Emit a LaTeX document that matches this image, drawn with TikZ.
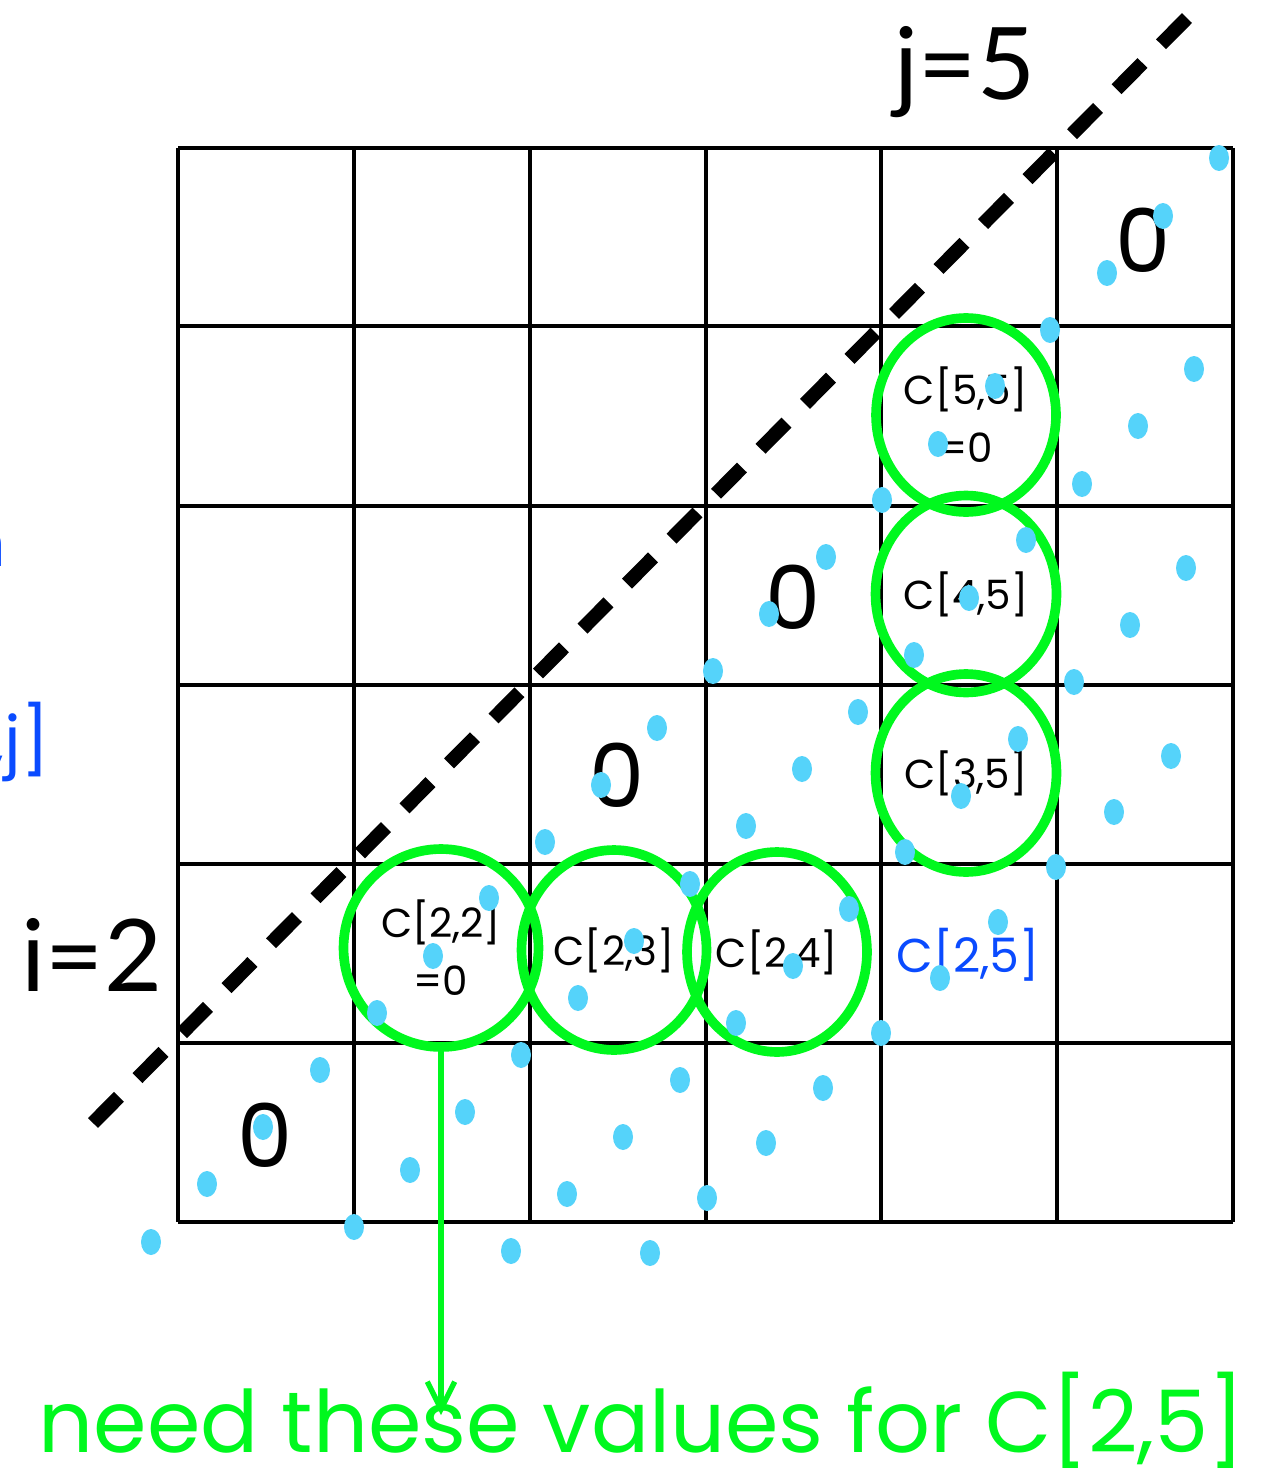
\documentclass[tikz,border=0pt]{standalone}
\usepackage{fontspec}
\setmainfont{Poppins}
\newfontfamily\rotulo{Lato}
\usetikzlibrary{arrows.meta,shapes.geometric}
\definecolor{verde}{HTML}{00F81E}
\definecolor{azul}{HTML}{0A4BFF}
\definecolor{ponto}{HTML}{55D3FA}

\begin{document}
\begin{tikzpicture}[x=0.02cm, y=-0.02cm, >=Stealth,
  linha/.style={line width=2.7pt, draw=black},
  tracejado/.style={line width=8pt, draw=black, dash pattern=on 21pt off 15pt},
  anel/.style={ellipse, draw=verde, line width=5.5pt, align=center, inner sep=0pt,
               font=\fontsize{23}{33}\selectfont},
  celula/.style={font=\fontsize{23}{33}\selectfont},
  zero/.style={font=\fontsize{50}{50}\selectfont},
  indice/.style={font=\rotulo\fontsize{57}{57}\selectfont},
  bolinha/.style={fill=ponto},
  seta/.style={-{Straight Barb[length=0.55cm, width=0.55cm, line width=3pt]},
               draw=verde, line width=3pt}]

  \useasboundingbox (0,0) rectangle (1267,1473);
  \clip (0,0) rectangle (1267,1473);

  % tabela 6x6
  \foreach \x in {178,354,530,706,881,1057,1233}
    \draw[linha] (\x,148) -- (\x,1222);
  \foreach \y in {148,326,506,685,864,1043,1222}
    \draw[linha] (178,\y) -- (1233,\y);

  % diagonal
  \coordinate (diagA) at (93,1123);
  \coordinate (diagB) at (1190,15);
  \draw[tracejado] (diagA) -- (diagB);

  \node[indice] (jlab) at (965,72) {j=5};
  \node[indice] (ilab) at (92,955) {i=2};

  % zeros
  \node[zero] (z66) at (1143,240) {0};
  \node[zero] (z44) at (793,597) {0};
  \node[zero] (z33) at (617,775) {0};
  \node[zero] (z11) at (265,1135) {0};

  % valores necessarios
  \node[anel, minimum width=3.6cm, minimum height=3.88cm] (c55) at (966,415) {C[5,5]\\=0};
  \node[anel, minimum width=3.62cm, minimum height=3.94cm] (c45) at (966,594) {C[4,5]};
  \node[anel, minimum width=3.62cm, minimum height=3.96cm] (c35) at (966,773) {C[3,5]};
  \node[anel, minimum width=3.9cm, minimum height=3.96cm] (c22) at (441,948) {C[2,2]\\=0};
  \node[anel, minimum width=3.7cm, minimum height=4cm] (c23) at (614,950) {C[2,3]};
  \node[anel, minimum width=3.6cm, minimum height=4cm] (c24) at (777,952) {C[2,4]};
  \node[celula, text=azul, font=\fontsize{27}{33}\selectfont] (c25) at (968,955) {C[2,5]};

  % textos cortados na borda
  \node[text=azul, font=\fontsize{38}{40}\selectfont, anchor=east, inner sep=0pt] (cij) at (50,742) {C[i,j]};
  \node[text=azul, font=\fontsize{38}{40}\selectfont, anchor=east, inner sep=0pt] (resto) at (7,548) {n};

  \coordinate (fim) at (441,1415);
  \draw[seta] (c22.south) -- (fim);
  \node[text=verde, font=\fontsize{49}{49}\selectfont, anchor=base, inner sep=0pt]
    (legenda) at (642,1452) {need these values for C[2,5]};

  % pontos azuis
  \foreach \px/\py in {1219/158,1163/216,1107/273,1050/330,1194/369,995/386,1138/426,
      938/444,1082/484,882/500,1026/540,826/557,1186/568,969/598,769/614,1130/625,
      914/655,713/671,1074/682,657/728,858/712,1018/739,1171/756,601/785,802/769,
      961/796,1114/812,545/842,746/826,905/852,1056/867,489/898,690/884,849/909,
      998/922,433/956,634/941,793/966,940/978,377/1013,578/998,736/1023,881/1033,
      521/1055,320/1070,680/1080,823/1088,465/1112,263/1127,623/1137,766/1143,
      410/1170,207/1184,567/1194,707/1198,354/1227,151/1242,511/1251,650/1253}
    \fill[bolinha] (\px,\py) ellipse (0.2cm and 0.26cm);
\end{tikzpicture}
\end{document}
